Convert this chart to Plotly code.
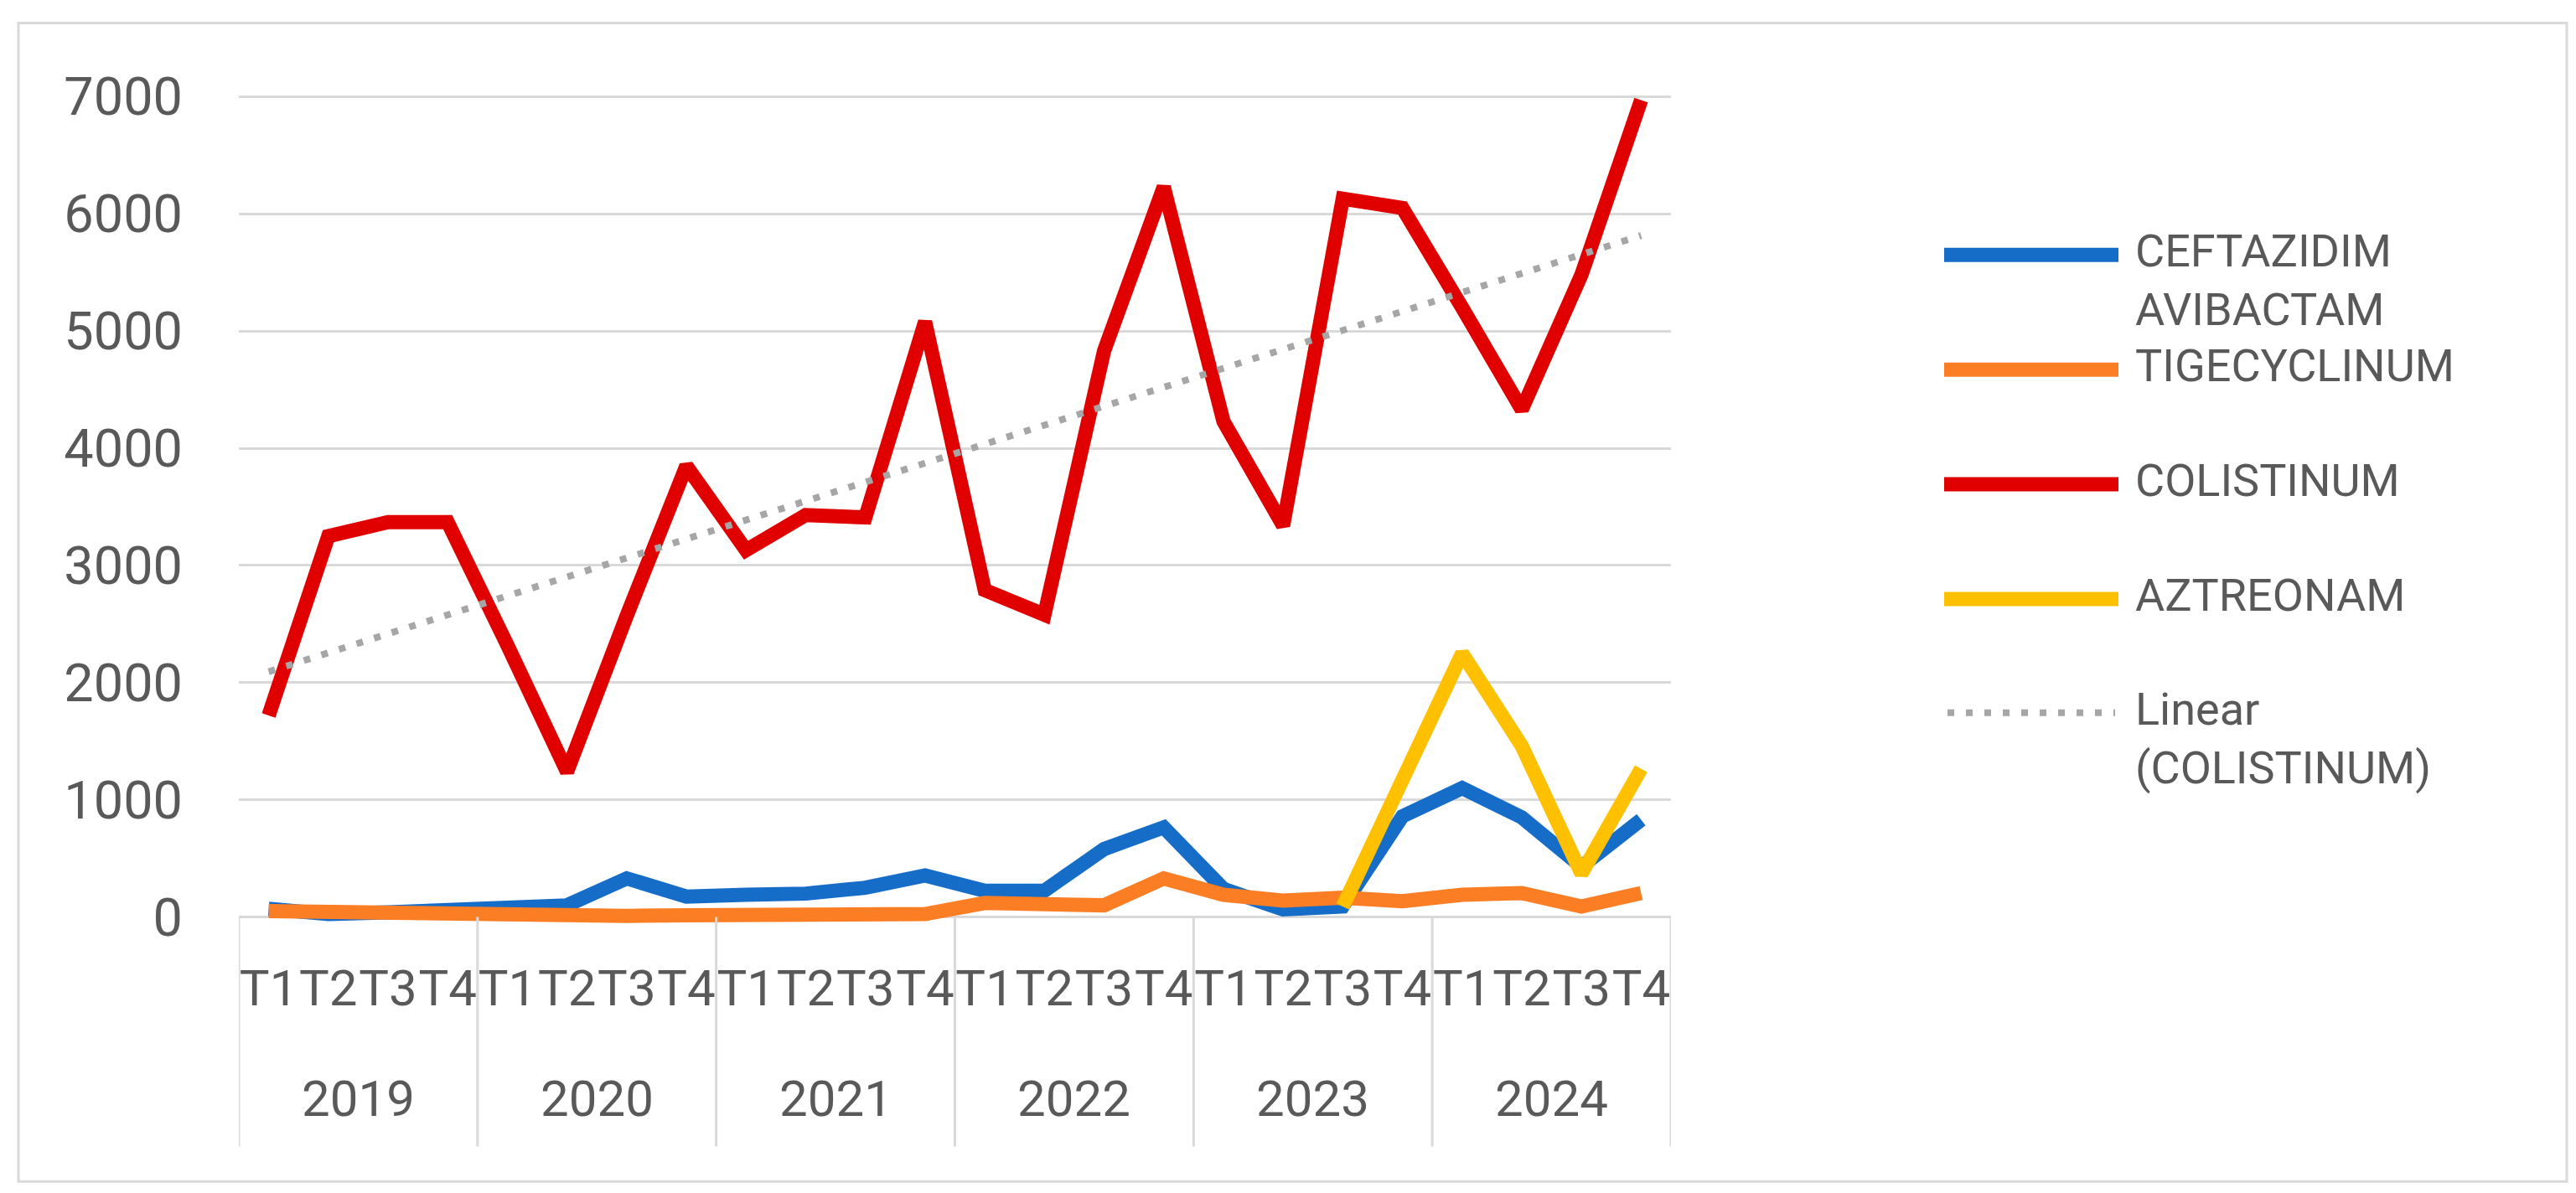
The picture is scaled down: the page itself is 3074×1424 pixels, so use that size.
import numpy as np
import plotly.graph_objects as go

# quarterly consumption, 2019-2024
YEARS = ["2019", "2020", "2021", "2022", "2023", "2024"]
QUARTERS = ["T1", "T2", "T3", "T4"]

ceftazidim_avibactam = [70, 25, 40, 60, 65, 100, 330, 175, 190, 200, 250, 355,
                        225, 225, 580, 765, 240, 65, 90, 860, 1100, 850, 430, 830]
tigecyclinum = [50, 40, 30, 20, 20, 15, 10, 15, 15, 25, 35, 25,
                120, 120, 100, 330, 190, 140, 165, 135, 190, 205, 90, 205]
colistinum = [1720, 3250, 3370, 3370, 2320, 1240, 2570, 3850, 3130, 3430, 3410, 5080,
              2790, 2580, 4830, 6230, 4230, 3340, 6130, 6050, 5200, 4330, 5480, 6970]
aztreonam = [None] * 18 + [90, 1160, 2250, 1460, 370, 1265]

SERIES = [
    ("CEFTAZIDIM<br>AVIBACTAM", ceftazidim_avibactam, "#166DC8"),
    ("TIGECYCLINUM", tigecyclinum, "#FB7E24"),
    ("COLISTINUM", colistinum, "#E00000"),
    ("AZTREONAM", aztreonam, "#FFC000"),
]
TREND_COLOR = "#A6A6A6"
TEXT = "#595959"
GRID = "#D9D9D9"
FONT = "Roboto, Lato, sans-serif"
LW = 17

W, H = 3074, 1424
L, R, T, B = 277, 1986, 98.6, 1095.4


def px(x):
    return (x - L) / (R - L)


def py(y):
    return (B - y) / (B - T)


# one category per quarter; the axis shows the quarter, years go underneath
cats = [f"{y} {q}" for y in YEARS for q in QUARTERS]
quarter_text = [q for _ in YEARS for q in QUARTERS]

fig = go.Figure()
for name, vals, color in SERIES:
    fig.add_trace(go.Scatter(x=cats, y=vals, mode="lines", name=name,
                             line=dict(color=color, width=LW), showlegend=False))

# Excel-style linear trendline for COLISTINUM
idx = np.arange(len(colistinum))
slope, icpt = np.polyfit(idx, colistinum, 1)
fig.add_trace(go.Scatter(x=cats, y=icpt + slope * idx, mode="lines",
                         name="Linear (COLISTINUM)", showlegend=False,
                         line=dict(color=TREND_COLOR, width=8, dash="8px,14px")))

shapes = []
annotations = []

# year row and group dividers
nq = len(QUARTERS)
for i, yr in enumerate(YEARS):
    annotations.append(dict(text=yr, xref="x", yref="paper", x=i * nq + (nq - 1) / 2, y=py(1304),
                            xanchor="center", yanchor="middle", showarrow=False,
                            font=dict(family=FONT, size=60, color=TEXT)))
for i in range(len(YEARS) + 1):
    shapes.append(dict(type="line", xref="x", yref="paper", x0=i * nq - 0.5, x1=i * nq - 0.5,
                       y0=py(1087), y1=py(1361), line=dict(color=GRID, width=3)))

# hand-placed legend, Excel layout
legend_items = [(s[0], s[2], "solid") for s in SERIES] + [("Linear<br>(COLISTINUM)", TREND_COLOR, "dot")]
ys = [296, 433, 570, 707, 843]
for (label, color, style), yy in zip(legend_items, ys):
    if style == "solid":
        shapes.append(dict(type="line", xref="paper", yref="paper",
                           x0=px(2312), x1=px(2520), y0=py(yy), y1=py(yy),
                           line=dict(color=color, width=LW)))
    else:
        shapes.append(dict(type="line", xref="paper", yref="paper",
                           x0=px(2316), x1=px(2516), y0=py(yy), y1=py(yy),
                           line=dict(color=color, width=8, dash="8px,14px")))
    annotations.append(dict(text=label, xref="paper", yref="paper", x=px(2538), y=py(yy - 38),
                            xanchor="left", yanchor="top", align="left", showarrow=False,
                            font=dict(family=FONT, size=54, color=TEXT)))

# chart frame
shapes.append(dict(type="rect", xref="paper", yref="paper", layer="below",
                   x0=px(14), x1=px(3055), y0=py(1403), y1=py(19),
                   line=dict(color=GRID, width=3), fillcolor="rgba(0,0,0,0)"))

fig.update_layout(
    width=W, height=H,
    margin=dict(l=L, r=W - R, t=T, b=H - B),
    paper_bgcolor="white", plot_bgcolor="white",
    font=dict(family=FONT, color=TEXT),
    shapes=shapes, annotations=annotations,
)
fig.update_yaxes(range=[-60, 7060], dtick=1000, tick0=0, showgrid=True, gridcolor=GRID, gridwidth=3,
                 zeroline=True, zerolinecolor=GRID, zerolinewidth=3, showline=False,
                 ticks="", ticklabelstandoff=66, tickfont=dict(size=63, color=TEXT))
fig.update_xaxes(type="category", range=[-0.5, len(cats) - 0.5], showgrid=False, showline=False,
                 ticks="", tickangle=0, tickmode="array", tickvals=cats, ticktext=quarter_text,
                 ticklabelstandoff=36, tickfont=dict(size=60, color=TEXT))

fig.write_html("out.html")
